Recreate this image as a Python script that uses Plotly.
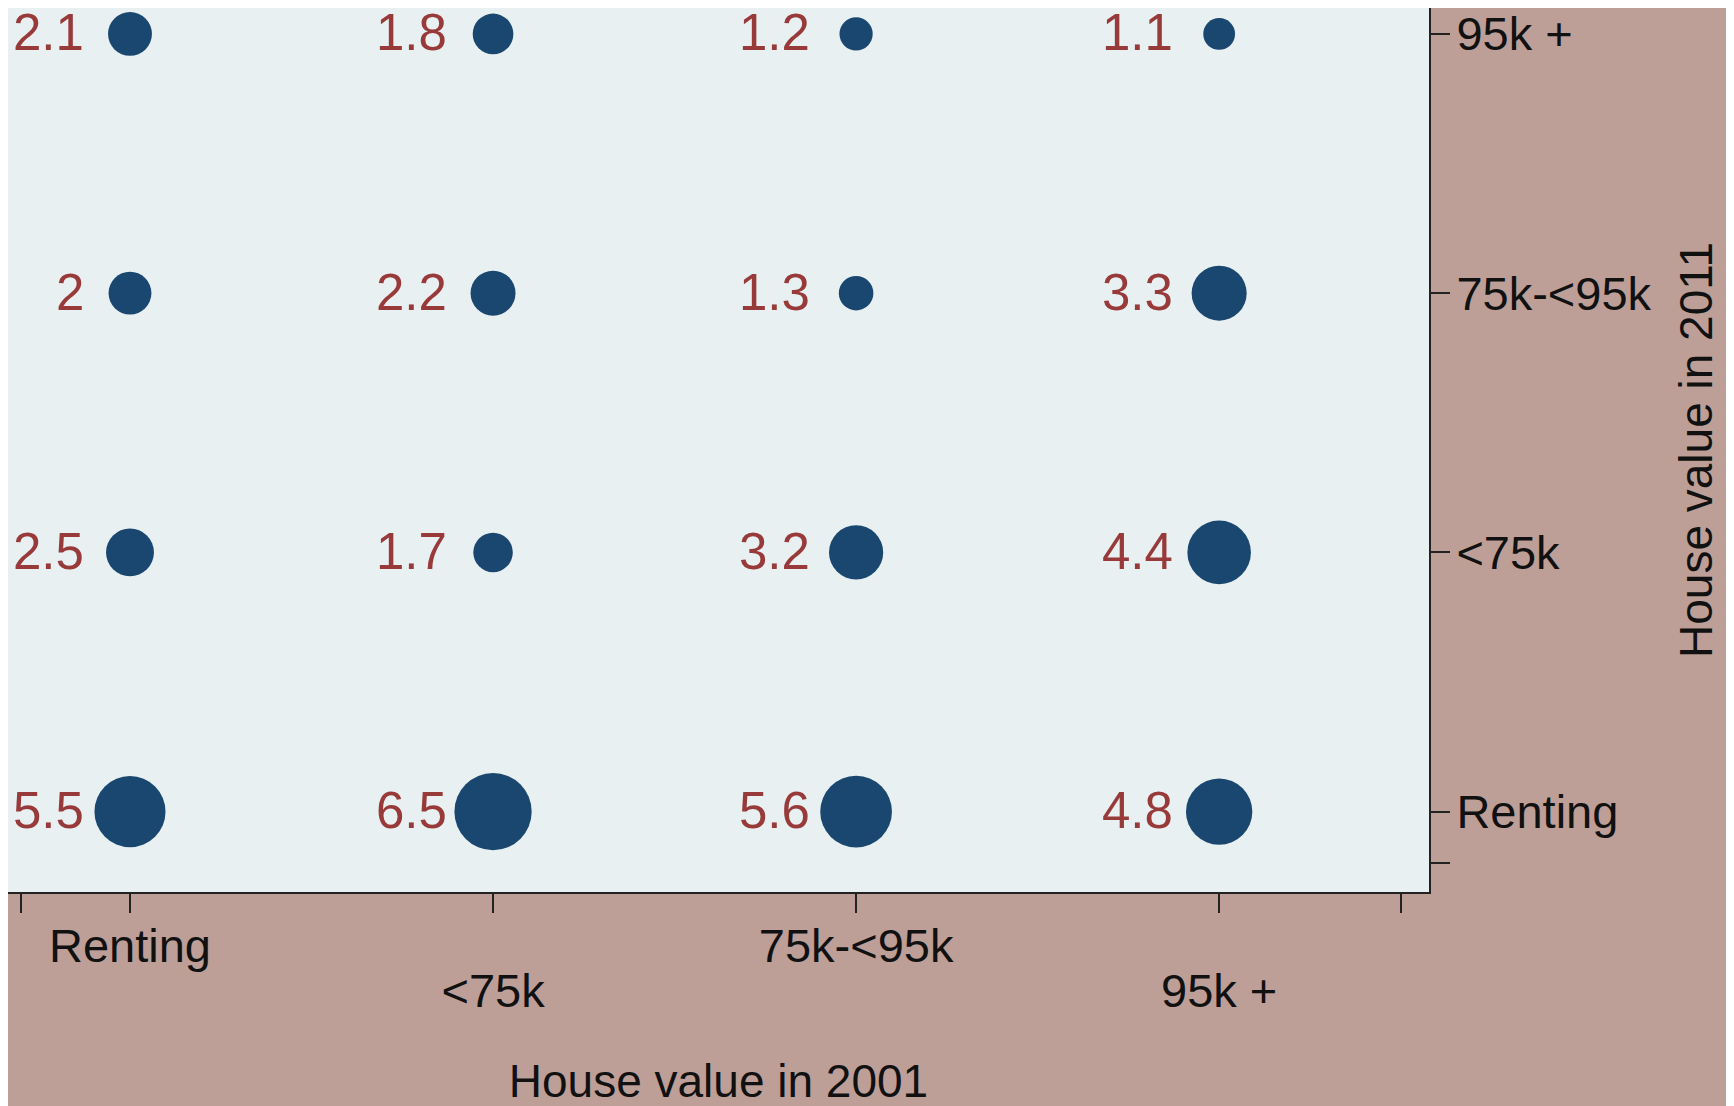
import plotly.graph_objects as go

# categories (value bands)
cats_2001 = ["Renting", "<75k", "75k-<95k", "95k +"]
cats_2011 = ["Renting", "<75k", "75k-<95k", "95k +"]

# percentages, one list per 2011 row (columns follow cats_2001)
row_renting = [5.5, 6.5, 5.6, 4.8]
row_lt75 = [2.5, 1.7, 3.2, 4.4]
row_75_95 = [2.0, 2.2, 1.3, 3.3]
row_95plus = [2.1, 1.8, 1.2, 1.1]
rows = [row_renting, row_lt75, row_75_95, row_95plus]

FONT = "Liberation Sans, Arial, sans-serif"
BG = "#bd9f98"
PLOT_BG = "#e8f0f2"
DOT = "#1a4770"
LAB = "#983a3a"

xs, ys, vals = [], [], []
for j, row in enumerate(rows):
    for i, v in enumerate(row):
        xs.append(i + 1)
        ys.append(j + 1)
        vals.append(v)

fig = go.Figure()
fig.add_trace(
    go.Scatter(
        x=xs,
        y=ys,
        mode="markers",
        marker=dict(size=vals, sizemode="area", sizeref=2 / 30.3**2,
                    color=DOT, opacity=1, line=dict(width=0)),
        hoverinfo="skip",
        showlegend=False,
    )
)
# hidden trace so the second-row x labels get drawn
fig.add_trace(
    go.Scatter(x=[2, 4], y=[1, 1], xaxis="x2", mode="markers",
               marker=dict(opacity=0), hoverinfo="skip", showlegend=False)
)

for x, y, v in zip(xs, ys, vals):
    fig.add_annotation(
        x=x, y=y, text=f"{v:g}", showarrow=False,
        xanchor="right", yanchor="middle", xshift=-44, yshift=1,
        font=dict(family=FONT, size=51, color=LAB),
    )

esc = lambda s: s.replace("<", "&lt;")
xrange_ = [0.664, 4.578]
tick_font = dict(family=FONT, size=47, color="#111111")

fig.update_layout(
    width=1734,
    height=1106,
    paper_bgcolor=BG,
    plot_bgcolor=PLOT_BG,
    margin=dict(l=0, r=313, t=0, b=222),
    font=dict(family=FONT, size=47, color="#111111"),
    xaxis=dict(
        range=xrange_,
        tickvals=[0.7, 1, 2, 3, 4, 4.5],
        ticktext=["", esc(cats_2001[0]), "", esc(cats_2001[2]), "", ""],
        tickfont=tick_font,
        ticks="outside", ticklen=19, tickwidth=2, tickcolor="#222222",
        showline=True, linecolor="#222222", linewidth=2,
        showgrid=False, zeroline=False, ticklabelstandoff=-7,
        title=dict(text="House value in 2001", standoff=93,
                   font=dict(family=FONT, size=46, color="#111111")),
        automargin=False,
    ),
    xaxis2=dict(
        overlaying="x", anchor="y", side="bottom",
        range=xrange_,
        tickvals=[2, 4],
        ticktext=[esc(cats_2001[1]), esc(cats_2001[3])],
        tickfont=tick_font,
        ticks="", showline=False, showgrid=False, zeroline=False,
        ticklabelstandoff=67, automargin=False,
    ),
    yaxis=dict(
        range=[0.69, 4.1],
        side="right",
        tickvals=[0.8, 1, 2, 3, 4],
        ticktext=[""] + [esc(c) for c in cats_2011],
        tickfont=tick_font,
        ticks="outside", ticklen=19, tickwidth=2, tickcolor="#222222",
        showline=True, linecolor="#222222", linewidth=2,
        showgrid=False, zeroline=False, ticklabelstandoff=-3,
        ticklabeloverflow="allow",
        title=dict(text="House value in 2011", standoff=29,
                   font=dict(family=FONT, size=46, color="#111111")),
        automargin=False,
    ),
)

fig.write_html("out.html")
